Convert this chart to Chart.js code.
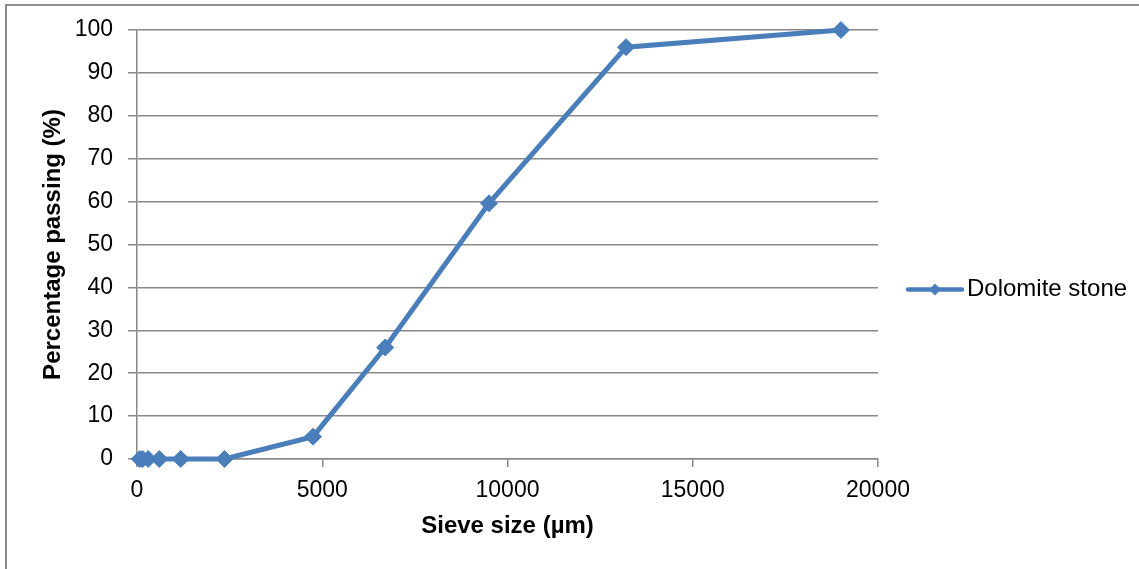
<!DOCTYPE html>
<html>
<head>
<meta charset="utf-8">
<script src="https://cdn.jsdelivr.net/npm/chart.js@4.4.1/dist/chart.umd.min.js"></script>
<style>
  html, body { margin: 0; padding: 0; background: #fff; }
  #wrap { position: absolute; left: 0; top: 0; width: 1139px; height: 569px; }
  #frame { position: absolute; left: 5px; top: 4px; width: 1134px; height: 565px;
           border-left: 2px solid #8c8c8c; border-top: 2px solid #8c8c8c; }
</style>
</head>
<body>
<div id="wrap">
  <div id="frame"></div>
  <canvas id="chart" width="1139" height="569"></canvas>
</div>
<script>
// sieve sizes (µm) and percentage passing
const sieveSizes = [75, 150, 300, 600, 1180, 2360, 4750, 6700, 9500, 13200, 19000];
const passing = [0, 0, 0, 0, 0, 0, 5.2, 26, 59.6, 96, 100];
const seriesName = 'Dolomite stone';

const blue = '#4a7ebb';
const gray = '#888888';
const fontFamily = 'Liberation Sans, Arial, sans-serif';

Chart.defaults.font.family = fontFamily;
Chart.defaults.font.size = 23;
Chart.defaults.color = '#000';

// legend drawn like Excel: short line with a diamond in the middle
const excelLegend = {
  id: 'excelLegend',
  afterDraw(chart) {
    const ctx = chart.ctx;
    const area = chart.chartArea;
    const y = (area.top + area.bottom) / 2 + 45;
    const x0 = area.right + 30;
    ctx.save();
    ctx.strokeStyle = blue;
    ctx.lineWidth = 4.5;
    ctx.lineCap = 'round';
    ctx.beginPath();
    ctx.moveTo(x0, y);
    ctx.lineTo(x0 + 54, y);
    ctx.stroke();
    const cx = x0 + 27, r = 6;
    ctx.fillStyle = blue;
    ctx.beginPath();
    ctx.moveTo(cx - r, y);
    ctx.lineTo(cx, y - r);
    ctx.lineTo(cx + r, y);
    ctx.lineTo(cx, y + r);
    ctx.closePath();
    ctx.fill();
    ctx.fillStyle = '#000';
    ctx.font = '24px ' + fontFamily;
    ctx.textBaseline = 'middle';
    ctx.fillText(chart.data.datasets[0].label, x0 + 59, y);
    ctx.restore();
  }
};

new Chart(document.getElementById('chart'), {
  type: 'line',
  data: {
    datasets: [{
      label: seriesName,
      data: sieveSizes.map((s, i) => ({ x: s, y: passing[i] })),
      borderColor: blue,
      backgroundColor: blue,
      borderWidth: 5,
      pointStyle: 'rectRot',
      pointRadius: 8.5,
      pointBorderWidth: 1,
      pointBackgroundColor: blue,
      pointBorderColor: blue,
      tension: 0,
      clip: false
    }]
  },
  options: {
    responsive: false,
    animation: false,
    layout: { padding: { top: 30, right: 261, left: 0, bottom: 0 } },
    plugins: {
      legend: { display: false },
      tooltip: { enabled: false }
    },
    scales: {
      x: {
        type: 'linear',
        min: 0,
        max: 20000,
        ticks: { stepSize: 5000, padding: 10, maxRotation: 0, callback: v => String(v) },
        grid: { drawOnChartArea: false, color: gray, tickLength: 8, lineWidth: 1.5 },
        border: { color: gray, width: 1.5 },
        title: {
          display: true,
          text: 'Sieve size (µm)',
          font: { size: 24, weight: 'bold' },
          padding: { top: 0, bottom: 28 }
        },
        afterFit(scale) { scale.height = 110; }
      },
      y: {
        min: 0,
        max: 100,
        ticks: { stepSize: 10, padding: 15 },
        grid: { color: gray, tickLength: 9, lineWidth: 1.5 },
        border: { color: gray, width: 1.5 },
        title: {
          display: true,
          text: 'Percentage passing (%)',
          font: { size: 24, weight: 'bold' },
          padding: { top: 39, bottom: 0 }
        },
        afterFit(scale) { scale.width = 137; }
      }
    }
  },
  plugins: [excelLegend]
});
</script>
</body>
</html>
